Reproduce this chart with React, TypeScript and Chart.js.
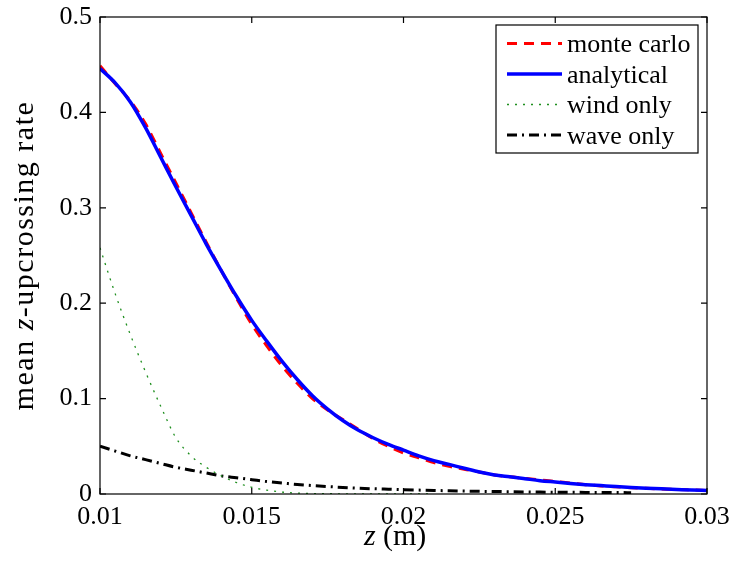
import React, { useEffect, useRef } from 'react';
import { Chart, registerables } from 'chart.js';

Chart.register(...registerables);

// z grid (m)
const zGrid = [
  0.01, 0.0105, 0.011, 0.0115, 0.012, 0.0125, 0.013, 0.0135, 0.014, 0.0145,
  0.015, 0.0155, 0.016, 0.0165, 0.017, 0.0175, 0.018, 0.0185, 0.019, 0.0195,
  0.02, 0.0205, 0.021, 0.0215, 0.022, 0.0225, 0.023, 0.0235, 0.024, 0.0245,
  0.025, 0.0255, 0.026, 0.0265, 0.027, 0.0275, 0.028, 0.0285, 0.029, 0.0295,
  0.03,
];

const monteCarlo = [
  0.449, 0.43, 0.412, 0.388, 0.357, 0.326, 0.295, 0.264, 0.234, 0.205,
  0.178, 0.155, 0.134, 0.116, 0.1, 0.088, 0.078, 0.068, 0.058, 0.05,
  0.043, 0.038, 0.033, 0.029, 0.026, 0.023, 0.02, 0.018, 0.0165, 0.0148,
  0.013, 0.0115, 0.0098, 0.0085, 0.0075, 0.0066, 0.0059, 0.0053, 0.0047, 0.0042,
  0.0037,
];

const analytical = [
  0.446, 0.431, 0.411, 0.384, 0.353, 0.322, 0.292, 0.262, 0.234, 0.207,
  0.182, 0.16, 0.139, 0.12, 0.103, 0.089, 0.077, 0.067, 0.059, 0.052,
  0.046, 0.04, 0.035, 0.031, 0.027, 0.023, 0.02, 0.018, 0.016, 0.014,
  0.0125, 0.011, 0.0098, 0.0088, 0.0078, 0.0069, 0.0061, 0.0054, 0.0048, 0.0042,
  0.0037,
];

// wind only: z from 0.01 to 0.021
const windOnly = [
  0.258, 0.21, 0.167, 0.128, 0.092, 0.059, 0.04, 0.028, 0.019, 0.012,
  0.007, 0.004, 0.002, 0.001, 0.0005, 0.0003, 0.0002, 0.0001, 0.0001, 0.0001,
  0.0001, 0.0001, 0.0001,
];

// wave only: z from 0.01 to 0.0275
const waveOnly = [
  0.05, 0.045, 0.04, 0.036, 0.032, 0.028, 0.025, 0.022, 0.019, 0.017,
  0.015, 0.013, 0.0115, 0.01, 0.0088, 0.0078, 0.0069, 0.0061, 0.0055, 0.005,
  0.0045, 0.0041, 0.0037, 0.0034, 0.0031, 0.0028, 0.0026, 0.0024, 0.0022, 0.002,
  0.0019, 0.0018, 0.0017, 0.0016, 0.0015, 0.0014,
];

const xTicks = [0.01, 0.015, 0.02, 0.025, 0.03];
const yTicks = [0, 0.1, 0.2, 0.3, 0.4, 0.5];

const seriesNames = ['monte carlo', 'analytical', 'wind only', 'wave only'];
const seriesColors = ['#ff0000', '#0000ff', '#1f8f1f', '#000000'];
const seriesWidths = [3, 3.5, 1.3, 3];
const seriesDashes: number[][] = [[10, 7], [], [2, 6], [10, 5, 2, 5]];

const SERIF = '"Liberation Serif", "Times New Roman", serif';

const toPoints = (ys: number[]) => ys.map((y, i) => ({ x: zGrid[i], y }));
const fmt = (v: number) => String(parseFloat(v.toFixed(4)));

const framePlugin = {
  id: 'frame',
  afterDatasetsDraw(chart: any) {
    const { ctx, chartArea: a, scales } = chart;
    const xs = scales.x;
    const ys = scales.y;
    ctx.save();
    ctx.strokeStyle = '#000';
    ctx.lineWidth = 1.2;
    ctx.setLineDash([]);
    ctx.strokeRect(a.left, a.top, a.right - a.left, a.bottom - a.top);
    const tl = 6;
    ctx.beginPath();
    xTicks.forEach((v) => {
      const px = xs.getPixelForValue(v);
      ctx.moveTo(px, a.bottom);
      ctx.lineTo(px, a.bottom - tl);
      ctx.moveTo(px, a.top);
      ctx.lineTo(px, a.top + tl);
    });
    yTicks.forEach((v) => {
      const py = ys.getPixelForValue(v);
      ctx.moveTo(a.left, py);
      ctx.lineTo(a.left + tl, py);
      ctx.moveTo(a.right, py);
      ctx.lineTo(a.right - tl, py);
    });
    ctx.stroke();
    ctx.restore();
  },
  afterDraw(chart: any) {
    const { ctx, chartArea: a } = chart;
    ctx.save();
    ctx.fillStyle = '#000';
    ctx.textBaseline = 'alphabetic';

    // x title: z (m)
    ctx.textAlign = 'left';
    ctx.font = `italic 30px ${SERIF}`;
    ctx.fillText('z', 364, 545);
    ctx.font = `30px ${SERIF}`;
    ctx.fillText('(m)', 383, 545);

    // y title
    const parts = [
      { t: 'mean ', it: false },
      { t: 'z', it: true },
      { t: '-upcrossing rate', it: false },
    ];
    ctx.save();
    const cy = (a.top + a.bottom) / 2;
    ctx.translate(33, cy);
    ctx.rotate(-Math.PI / 2);
    if ('letterSpacing' in ctx) (ctx as any).letterSpacing = '1.5px';
    let total = 0;
    const widths = parts.map((p) => {
      ctx.font = `${p.it ? 'italic ' : ''}30px ${SERIF}`;
      const w = ctx.measureText(p.t).width;
      total += w;
      return w;
    });
    let x = -total / 2;
    parts.forEach((p, i) => {
      ctx.font = `${p.it ? 'italic ' : ''}30px ${SERIF}`;
      ctx.fillText(p.t, x, 0);
      x += widths[i];
    });
    ctx.restore();

    // legend
    const bx = 496, by = 25, bw = 202, bh = 128;
    ctx.fillStyle = '#fff';
    ctx.fillRect(bx, by, bw, bh);
    ctx.strokeStyle = '#000';
    ctx.lineWidth = 1.2;
    ctx.strokeRect(bx, by, bw, bh);
    const rowY = [43.5, 74, 104.5, 135];
    seriesNames.forEach((name, i) => {
      const y = rowY[i];
      ctx.beginPath();
      ctx.strokeStyle = seriesColors[i];
      ctx.lineWidth = seriesWidths[i];
      ctx.setLineDash(seriesDashes[i]);
      ctx.moveTo(507, y);
      ctx.lineTo(562, y);
      ctx.stroke();
      ctx.setLineDash([]);
      ctx.fillStyle = '#000';
      ctx.font = `26px ${SERIF}`;
      ctx.textAlign = 'left';
      ctx.fillText(name, 567, y + 8.5);
    });
    ctx.restore();
  },
};

export default function App() {
  const ref = useRef<HTMLCanvasElement>(null);

  useEffect(() => {
    document.body.style.margin = '0';
    const canvas = ref.current;
    if (!canvas) return;
    const seriesData = [monteCarlo, analytical, windOnly, waveOnly];
    const orders = [1, 0, 2, 3];
    const chart = new Chart(canvas, {
      type: 'line',
      data: {
        datasets: seriesNames.map((name, i) => ({
          label: name,
          data: toPoints(seriesData[i]),
          borderColor: seriesColors[i],
          backgroundColor: seriesColors[i],
          borderWidth: seriesWidths[i],
          borderDash: seriesDashes[i],
          pointRadius: 0,
          fill: false,
          cubicInterpolationMode: 'monotone' as const,
          order: orders[i],
        })),
      },
      options: {
        animation: false,
        responsive: false,
        devicePixelRatio: 1,
        layout: { padding: { top: 17, right: 23, left: 0, bottom: 0 } },
        plugins: {
          legend: { display: false },
          tooltip: { enabled: false },
        },
        scales: {
          x: {
            type: 'linear',
            min: 0.01,
            max: 0.03,
            grid: { display: false, drawTicks: false },
            border: { display: false },
            afterBuildTicks: (s: any) => {
              s.ticks = xTicks.map((v) => ({ value: v }));
            },
            afterFit: (s: any) => {
              s.height = 69;
              s.paddingLeft = 0;
              s.paddingRight = 0;
            },
            ticks: {
              color: '#000',
              padding: 8,
              maxRotation: 0,
              autoSkip: false,
              font: { family: SERIF, size: 26 },
              callback: (v: any) => fmt(Number(v)),
            },
          },
          y: {
            type: 'linear',
            min: 0,
            max: 0.5,
            grid: { display: false, drawTicks: false },
            border: { display: false },
            afterBuildTicks: (s: any) => {
              s.ticks = yTicks.map((v) => ({ value: v }));
            },
            afterFit: (s: any) => {
              s.width = 100;
              s.paddingTop = 0;
              s.paddingBottom = 0;
            },
            ticks: {
              color: '#000',
              padding: 8,
              autoSkip: false,
              font: { family: SERIF, size: 26 },
              callback: (v: any) => fmt(Number(v)),
            },
          },
        },
      },
      plugins: [framePlugin],
    });
    return () => chart.destroy();
  }, []);

  return (
    <div style={{ position: 'absolute', left: 0, top: 0, width: 730, height: 563 }}>
      <canvas ref={ref} width={730} height={563} style={{ display: 'block', width: 730, height: 563 }} />
    </div>
  );
}
